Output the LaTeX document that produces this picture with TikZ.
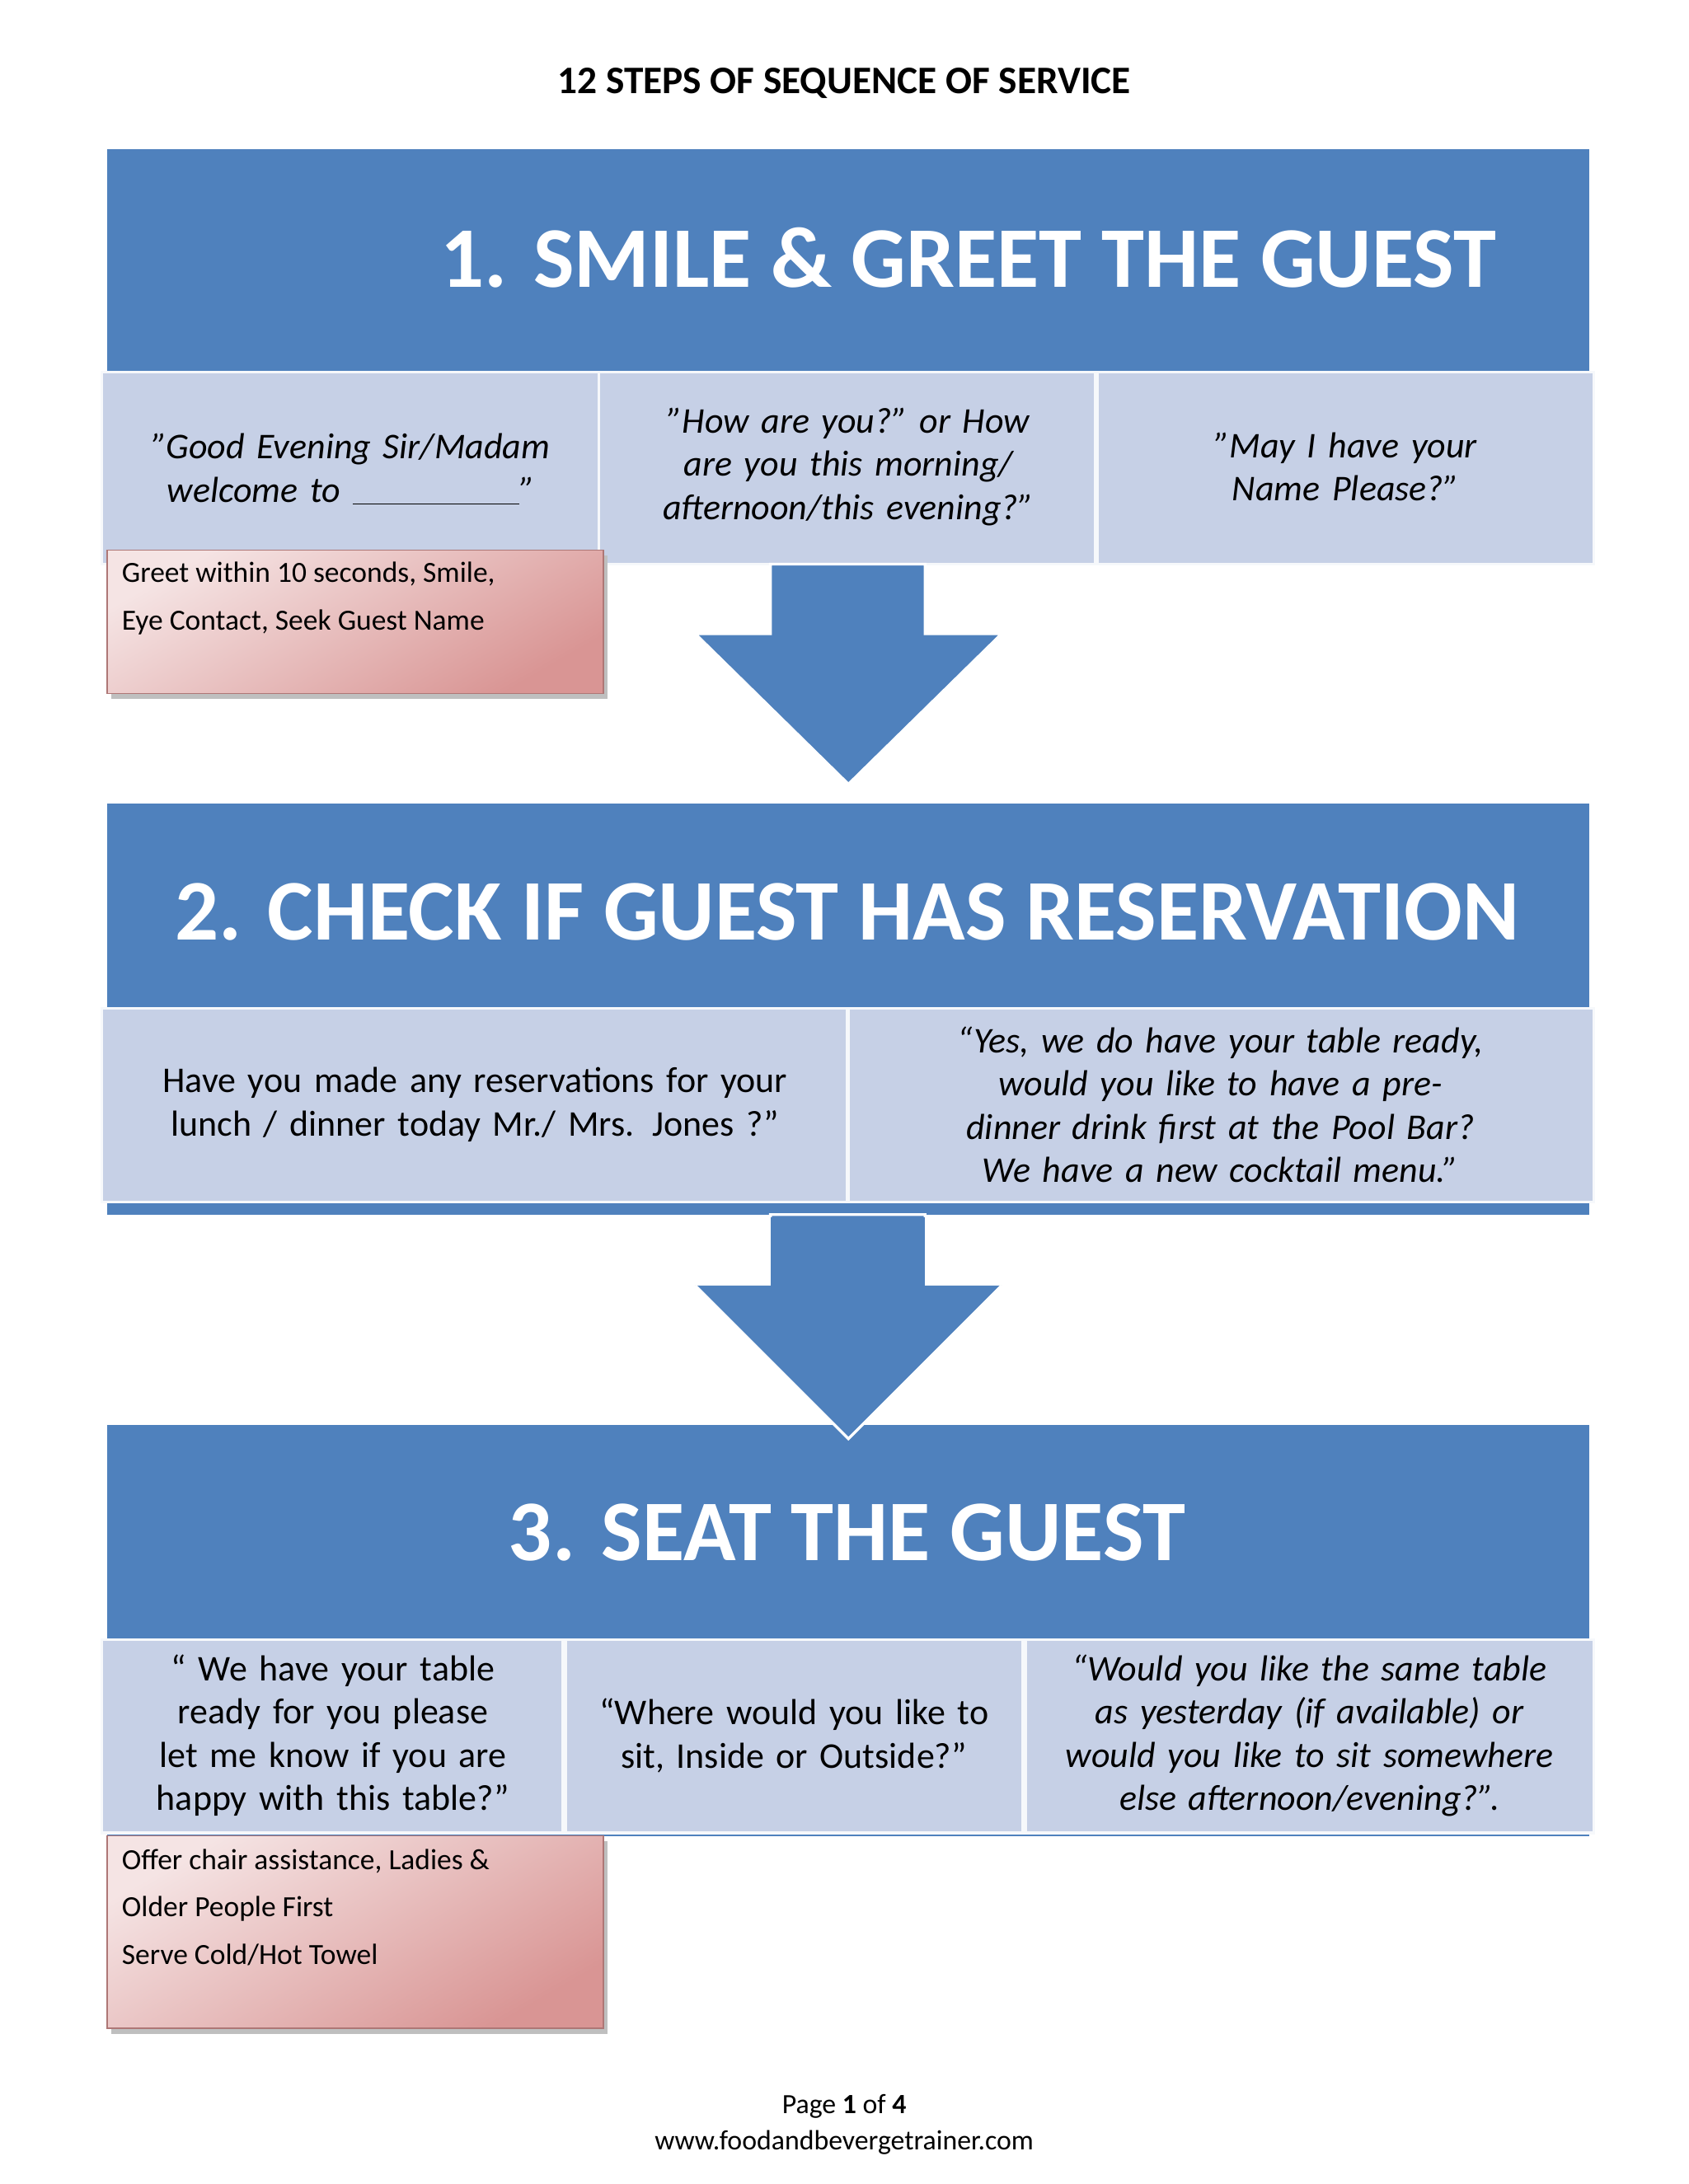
\documentclass[tikz,border=0pt]{standalone}
\usepackage{fontspec}
\setmainfont{Carlito}
\definecolor{hblue}{HTML}{4F81BD}
\definecolor{lblue}{HTML}{C6D0E6}
\definecolor{pinkA}{HTML}{D99594}
\definecolor{pinkB}{HTML}{F5E4E4}
\begin{document}
\begin{tikzpicture}[x=1pt,y=-1pt,
 head/.style={fill=hblue,draw=none},
 cell/.style={fill=lblue,draw=white!85!lblue,line width=2pt},
 ctext/.style={text width=#1,align=center,font=\fontsize{26}{31}\selectfont\itshape},
 ntext/.style={text width=#1,align=center,font=\fontsize{26}{31}\selectfont},
 ttl/.style={text=white,font=\fontsize{62}{70}\selectfont\bfseries},
 note/.style={draw=pinkA!80!black,line width=1pt,top color=pinkB,bottom color=pinkA,shading angle=30},
 ntxt/.style={anchor=north west,align=left,font=\fontsize{21}{34}\selectfont},
 arr/.style={fill=hblue,draw=white,line width=2pt}]
\fill[white] (0,0) rectangle (1212,1568);
\node (t) at (606,60) {\fontsize{28}{32}\selectfont\bfseries 12 STEPS OF SEQUENCE OF SERVICE};
% step 1
\fill[head] (77,107) rectangle (1141,267);
\node[ttl] (s1) at (695,185) {1. SMILE \& GREET THE GUEST};
\draw[cell] (73,267) rectangle (430,405);
\draw[cell] (430,267) rectangle (786,405);
\draw[cell] (788,267) rectangle (1144,405);
\node[ctext=320pt] (c11) at (252,337) {"Good Evening Sir/Madam welcome to \underline{\hspace{120pt}}"};
\node[ctext=330pt] (c12) at (609,335) {"How are you?" or How are you this morning/ afternoon/this evening?"};
\node[ctext=320pt] (c13) at (966,335) {"May I have your Name Please?"};
\fill[gray!50] (80,399) rectangle (436,502);
\draw[note] (77,395) rectangle (433,498);
\node[ntxt] (n1) at (84,400) {Greet within 10 seconds, Smile,\\Eye Contact, Seek Guest Name};
\draw[arr] (553,405) -- (664,405) -- (664,455) -- (719,455) -- (609,563) -- (499,455) -- (553,455) -- cycle;
% step 2
\fill[head] (77,577) rectangle (1141,872);
\node[ttl] (s2) at (608,655) {2. CHECK IF GUEST HAS RESERVATION};
\draw[cell] (73,724) rectangle (608,863);
\draw[cell] (609,724) rectangle (1144,863);
\node[ntext=480pt] (c21) at (341,793) {Have you made any reservations for your lunch / dinner today Mr./ Mrs. Jones ?”};
\node[ctext=480pt] (c22) at (876,793) {“Yes, we do have your table ready, would you like to have a pre-dinner drink first at the Pool Bar? We have a new cocktail menu.”};
\draw[arr] (553,872) -- (664,872) -- (664,923) -- (719,923) -- (609,1033) -- (499,923) -- (553,923) -- cycle;
% step 3
\fill[head] (77,1023) rectangle (1141,1318);
\draw[arr] (499,923) -- (609,1033) -- (719,923);
\fill[hblue] (553,874) rectangle (664,925);
\node[ttl] (s3) at (608,1100) {3. SEAT THE GUEST};
\draw[cell] (73,1177) rectangle (404,1316);
\draw[cell] (406,1177) rectangle (734,1316);
\draw[cell] (736,1177) rectangle (1144,1316);
\node[ntext=300pt] (c31) at (239,1246) {“ We have your table ready for you please let me know if you are happy with this table?”};
\node[ntext=300pt] (c32) at (570,1246) {“Where would you like to sit, Inside or Outside?”};
\node[ctext=370pt] (c33) at (940,1246) {“Would you like the same table as yesterday (if available) or would you like to sit somewhere else afternoon/evening?”.};
\fill[gray!50] (80,1322) rectangle (436,1460);
\draw[note] (77,1318) rectangle (433,1456);
\node[ntxt] (n3) at (84,1324) {Offer chair assistance, Ladies \&\\Older People First\\Serve Cold/Hot Towel};
% footer
\node (p) at (606,1512) {\fontsize{20}{24}\selectfont Page \textbf{1} of \textbf{4}};
\node (u) at (606,1538) {\fontsize{20}{24}\selectfont www.foodandbevergetrainer.com};
\end{tikzpicture}
\end{document}
